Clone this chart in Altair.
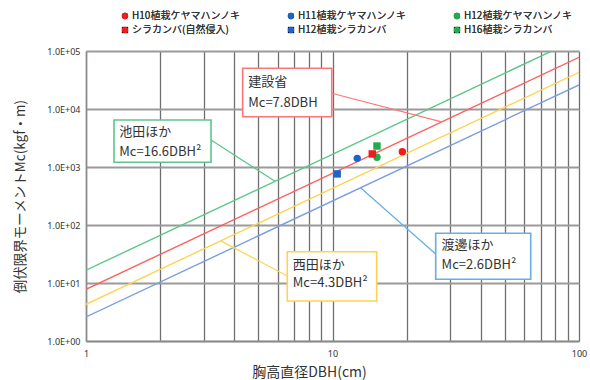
import altair as alt
import pandas as pd

# Measured trees: DBH (cm) and critical overturning moment Mc (kgf·m)
series = ["H10植栽ケヤマハンノキ", "H11植栽ケヤマハンノキ", "H12植栽ケヤマハンノキ",
          "シラカンバ(自然侵入)", "H12植栽シラカンバ", "H16植栽シラカンバ"]
series_colors = ["#ee1c1c", "#1f63c6", "#21ad4b", "#ee1c1c", "#1f63c6", "#21ad4b"]
series_shapes = ["circle", "circle", "circle", "square", "square", "square"]
dbh_cm = [19.2, 12.6, 15.15, 14.5, 10.45, 15.15]
mc_kgfm = [1840, 1410, 1470, 1680, 760, 2300]

# Published relations Mc = a * DBH^2, drawn between DBH 1 and 100
formula_names = ["池田ほか", "建設省", "西田ほか", "渡邊ほか"]
formula_colors = ["#5cc68a", "#ff5f5f", "#ffd24f", "#7b9ee0"]
mc_at_dbh1 = [16.6, 7.8, 4.3, 2.6]
mc_at_dbh100 = [166000, 78000, 43000, 26000]
dbh_ends = [1, 100]

x_ticks = [1, 2, 3, 4, 5, 6, 7, 8, 9, 10, 20, 30, 40, 50, 60, 70, 80, 90, 100]
y_ticks = [1, 10, 100, 1000, 10000, 100000]

JP = "Noto Sans CJK JP"

x_scale = alt.Scale(type="log", domain=[1, 100], nice=False)
y_scale = alt.Scale(type="log", domain=[1, 100000], nice=False)

x_axis = alt.Axis(
    values=x_ticks, title="胸高直径DBH(cm)", grid=True, ticks=False,
    gridColor="#6f6f6f", gridWidth=1.3, domainColor="#8a8a8a", domainWidth=1.5,
    labelExpr="datum.value == 1 || datum.value == 10 || datum.value == 100 ? '' + datum.value : ''",
    labelFont="Noto Sans", labelFontSize=9, labelColor="#333", labelPadding=8,
    labelFlush=False, labelOverlap=False,
    titleFont=JP, titleFontSize=14, titleFontWeight="normal", titleColor="#333",
    titleX=223, titleY=31, titleBaseline="middle", titleAnchor="middle",
)
y_axis = alt.Axis(
    values=y_ticks, title="倒伏限界モーメントMc(kgf・m)", grid=True, ticks=False,
    gridColor="#9a9a9a", gridWidth=1.8, domainColor="#8a8a8a", domainWidth=1.5,
    labelExpr="'1.0E+0' + round(log(datum.value) / LN10)",
    labelFont="Noto Sans", labelFontSize=9, labelColor="#333", labelPadding=6,
    labelFlush=False, labelOverlap=False,
    titleFont=JP, titleFontSize=13.5, titleFontWeight="normal", titleColor="#333",
    titleX=-66, titleY=145, titleAngle=-90, titleBaseline="middle", titleAnchor="middle",
)


def X(field="dbh"):
    return alt.X(f"{field}:Q", scale=x_scale, axis=x_axis)


def Y(field="mc"):
    return alt.Y(f"{field}:Q", scale=y_scale, axis=y_axis)


# Formula lines
line_rows = []
for name, a1, a100 in zip(formula_names, mc_at_dbh1, mc_at_dbh100):
    line_rows.append({"name": name, "dbh": dbh_ends[0], "mc": a1})
    line_rows.append({"name": name, "dbh": dbh_ends[1], "mc": a100})
lines_df = pd.DataFrame(line_rows)

lines = alt.Chart(lines_df).mark_line(clip=True, strokeWidth=1.4).encode(
    x=X(), y=Y(),
    detail="name:N",
    color=alt.Color("name:N", scale=alt.Scale(domain=formula_names, range=formula_colors), legend=None),
)


def annotation(title, formula, box, link, text_at, color):
    """Framed label (title + formula) joined to its line by a leader."""
    (bx1, bx2, by1, by2) = box
    (lx1, ly1, lx2, ly2) = link
    (tx, ty1, ty2) = text_at
    leader = alt.Chart(pd.DataFrame({"dbh": [lx1], "mc": [ly1], "dbh2": [lx2], "mc2": [ly2]})).mark_rule(
        color=color, strokeWidth=1.2
    ).encode(x=X(), y=Y(), x2="dbh2:Q", y2="mc2:Q")
    frame = alt.Chart(pd.DataFrame({"dbh": [bx1], "mc": [by1], "dbh2": [bx2], "mc2": [by2]})).mark_rect(
        fill="white", stroke=color, strokeWidth=1.6
    ).encode(x=X(), y=Y(), x2="dbh2:Q", y2="mc2:Q")
    texts = alt.Chart(pd.DataFrame({"dbh": [tx, tx], "mc": [ty1, ty2], "t": [title, formula]})).mark_text(
        align="left", baseline="middle", font=JP, fontSize=13, color="#333"
    ).encode(x=X(), y=Y(), text="t:N")
    return [leader, frame, texts]


notes = []
notes += annotation("建設省", "Mc=7.8DBH", (4.32, 9.93, 7370, 50300),
                    (9.93, 18660, 27.7, 5985), (4.55, 29600, 12700), "#ff7676")
notes += annotation("池田ほか", "Mc=16.6DBH²", (1.299, 3.215, 1205, 6460),
                    (3.215, 2922, 5.845, 567), (1.365, 4060, 1836), "#5cc68a")
notes += annotation("西田ほか", "Mc=4.3DBH²", (6.556, 15.11, 4.9, 34.6),
                    (3.52, 53.3, 6.556, 13.2), (6.9, 20.4, 9.88), "#ffd24f")
notes += annotation("渡邊ほか", "Mc=2.6DBH²", (26.22, 63.7, 11.6, 71.9),
                    (13.0, 439, 26.22, 31.6), (27.7, 45.2, 20.4), "#68aee0")

# Observed points
points_df = pd.DataFrame({"series": series, "dbh": dbh_cm, "mc": mc_kgfm})
points = alt.Chart(points_df).mark_point(filled=True, opacity=1, size=55).encode(
    x=X(), y=Y(),
    color=alt.Color("series:N", scale=alt.Scale(domain=series, range=series_colors),
                    legend=alt.Legend(title=None)),
    shape=alt.Shape("series:N", scale=alt.Scale(domain=series, range=series_shapes),
                    legend=alt.Legend(title=None)),
)

chart = alt.layer(lines, *notes, points).resolve_scale(color="independent").properties(
    width=493, height=290,
    autosize=alt.AutoSizeParams(type="none"),
    padding={"left": 86, "top": 51, "right": 11, "bottom": 39},
    background="white",
).configure_view(stroke=None).configure_legend(
    orient="none", legendX=34, legendY=-40, columns=3, direction="horizontal",
    gridAlign="all", columnPadding=45, rowPadding=4, padding=0,
    symbolSize=40, symbolStrokeWidth=0, labelFont=JP, labelFontSize=10,
    labelFontWeight="normal", labelColor="#333", labelOffset=2, labelLimit=200,
)

chart.save("out.html", embed_options={"renderer": "svg", "actions": False})
